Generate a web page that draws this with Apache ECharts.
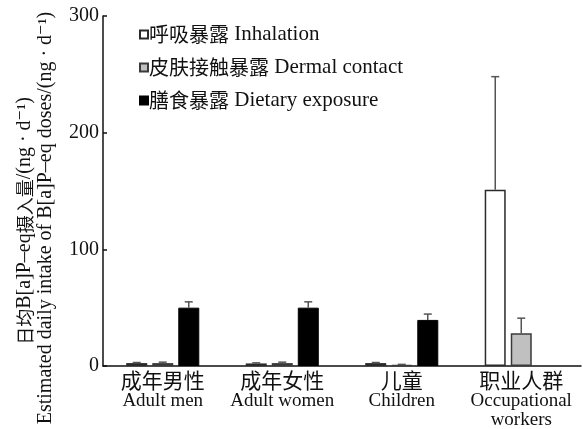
<!DOCTYPE html>
<html>
<head>
<meta charset="utf-8">
<script src="https://cdn.jsdelivr.net/npm/echarts@6/dist/echarts.min.js"></script>
<style>
  html, body { margin: 0; padding: 0; background: #fff; }
  #chart { width: 583px; height: 429px; }
</style>
</head>
<body>
<div id="chart"></div>
<script>
// Population groups (Chinese / English)
const groupsCn = ['成年男性', '成年女性', '儿童', '职业人群'];
const groupsEn = ['Adult men', 'Adult women', 'Children', 'Occupational\nworkers'];

// Exposure routes
const routeNames = ['呼吸暴露 Inhalation', '皮肤接触暴露 Dermal contact', '膳食暴露 Dietary exposure'];

// Mean daily intake, ng/d
const inhalation = [2.5, 2.2, 2.5, 151];
const dermal = [2.5, 2.5, 1.0, 28];
const dietary = [50, 50, 39.5, null];

// Upper end of the error bars, ng/d
const inhalationUpper = [3.0, 2.7, 3.0, 248];
const dermalUpper = [3.3, 3.3, 1.4, 41];
const dietaryUpper = [55, 55, 44.5, null];

const yTicks = [0, 100, 200, 300];

const SERIF = '"Liberation Serif", "DejaVu Serif", "Noto Sans CJK SC", serif';
const CJK = '"Noto Sans CJK SC", "Liberation Serif", serif';

const chart = echarts.init(document.getElementById('chart'), null, { renderer: 'canvas' });

const barStyles = [
  { color: '#ffffff', borderColor: '#2a2a2a', borderWidth: 1.5 },
  { color: '#c0c0c0', borderColor: '#3a3a3a', borderWidth: 1.5 },
  { color: '#000000', borderColor: '#000000', borderWidth: 1 }
];
const values = [inhalation, dermal, dietary];
const uppers = [inhalationUpper, dermalUpper, dietaryUpper];
const offsets = [-26, 0, 26];

function errorSeries(k) {
  const data = values[k].map((v, i) => (v == null ? null : [i, v, uppers[k][i]]))
    .filter(d => d !== null);
  return {
    type: 'custom',
    name: 'err' + k,
    data: data,
    encode: { x: 0, y: [1, 2] },
    z: 5,
    silent: true,
    renderItem: function (params, api) {
      const i = api.value(0);
      const base = api.coord([i, api.value(1)]);
      const top = api.coord([i, api.value(2)]);
      const x = base[0] + offsets[k];
      const cap = 4;
      const st = { stroke: '#555555', lineWidth: 1.5 };
      return {
        type: 'group',
        children: [
          { type: 'line', shape: { x1: x, y1: base[1], x2: x, y2: top[1] }, style: st },
          { type: 'line', shape: { x1: x - cap, y1: top[1], x2: x + cap, y2: top[1] }, style: st }
        ]
      };
    }
  };
}

const barSeries = values.map((vals, k) => ({
  type: 'bar',
  name: routeNames[k],
  data: vals,
  barWidth: 21,
  barGap: '24%',
  itemStyle: barStyles[k],
  z: 3
}));

// Axis title text: CJK glyphs slightly smaller than the Latin ones
function titleRich() {
  return {
    cn: { fontFamily: CJK, fontSize: 18, fill: '#111' },
    en: { fontFamily: SERIF, fontSize: 20, fill: '#111' }
  };
}

const option = {
  animation: false,
  backgroundColor: '#ffffff',
  grid: { left: 103, right: 2, top: 16, bottom: 63, containLabel: false, outerBoundsMode: 'none' },
  legend: {
    data: routeNames,
    orient: 'vertical',
    left: 139,
    top: 24,
    padding: 0,
    icon: 'rect',
    itemWidth: 8,
    itemHeight: 8,
    itemGap: 12,
    formatter: function (name) {
      const p = name.indexOf(' ');
      return '{cn|' + name.slice(0, p) + '}{en| ' + name.slice(p + 1) + '}';
    },
    textStyle: {
      padding: [0, 0, 0, -4],
      rich: {
        cn: { fontFamily: CJK, fontSize: 20, color: '#111' },
        en: { fontFamily: SERIF, fontSize: 21, color: '#111' }
      }
    }
  },
  xAxis: {
    type: 'category',
    data: groupsCn,
    axisLine: { lineStyle: { color: '#111', width: 1.5 } },
    axisTick: { inside: true, length: 5, lineStyle: { color: '#111', width: 1.5 } },
    axisLabel: {
      margin: 3,
      interval: 0,
      formatter: function (v, i) {
        return '{cn|' + v + '}\n{en|' + groupsEn[i].split('\n').join('}\n{en|') + '}';
      },
      rich: {
        cn: { fontFamily: CJK, fontSize: 21, lineHeight: 23, color: '#111' },
        en: { fontFamily: SERIF, fontSize: 19, lineHeight: 19, color: '#111' }
      }
    }
  },
  yAxis: {
    type: 'value',
    min: yTicks[0],
    max: yTicks[yTicks.length - 1],
    interval: 100,
    splitLine: { show: false },
    axisLine: { show: true, lineStyle: { color: '#111', width: 1.5 } },
    axisTick: { show: true, inside: true, length: 4, lineStyle: { color: '#111', width: 1.5 } },
    axisLabel: { fontFamily: SERIF, fontSize: 20, color: '#111', margin: 4 }
  },
  graphic: [
    {
      type: 'text',
      x: 25, y: 221,
      rotation: Math.PI / 2,
      style: {
        text: '{cn|日均}{en|B[a]P–eq}{cn|摄入量}{en|/(ng · d⁻¹)}',
        rich: titleRich(),
        align: 'center',
        verticalAlign: 'middle'
      }
    },
    {
      type: 'text',
      x: 46, y: 218,
      rotation: Math.PI / 2,
      style: {
        text: 'Estimated daily intake of B[a]P–eq doses/(ng · d⁻¹)',
        fontFamily: SERIF,
        fontSize: 20,
        fill: '#111',
        align: 'center',
        verticalAlign: 'middle'
      }
    }
  ],
  series: barSeries.concat([errorSeries(0), errorSeries(1), errorSeries(2)])
};

chart.setOption(option);
</script>
</body>
</html>
